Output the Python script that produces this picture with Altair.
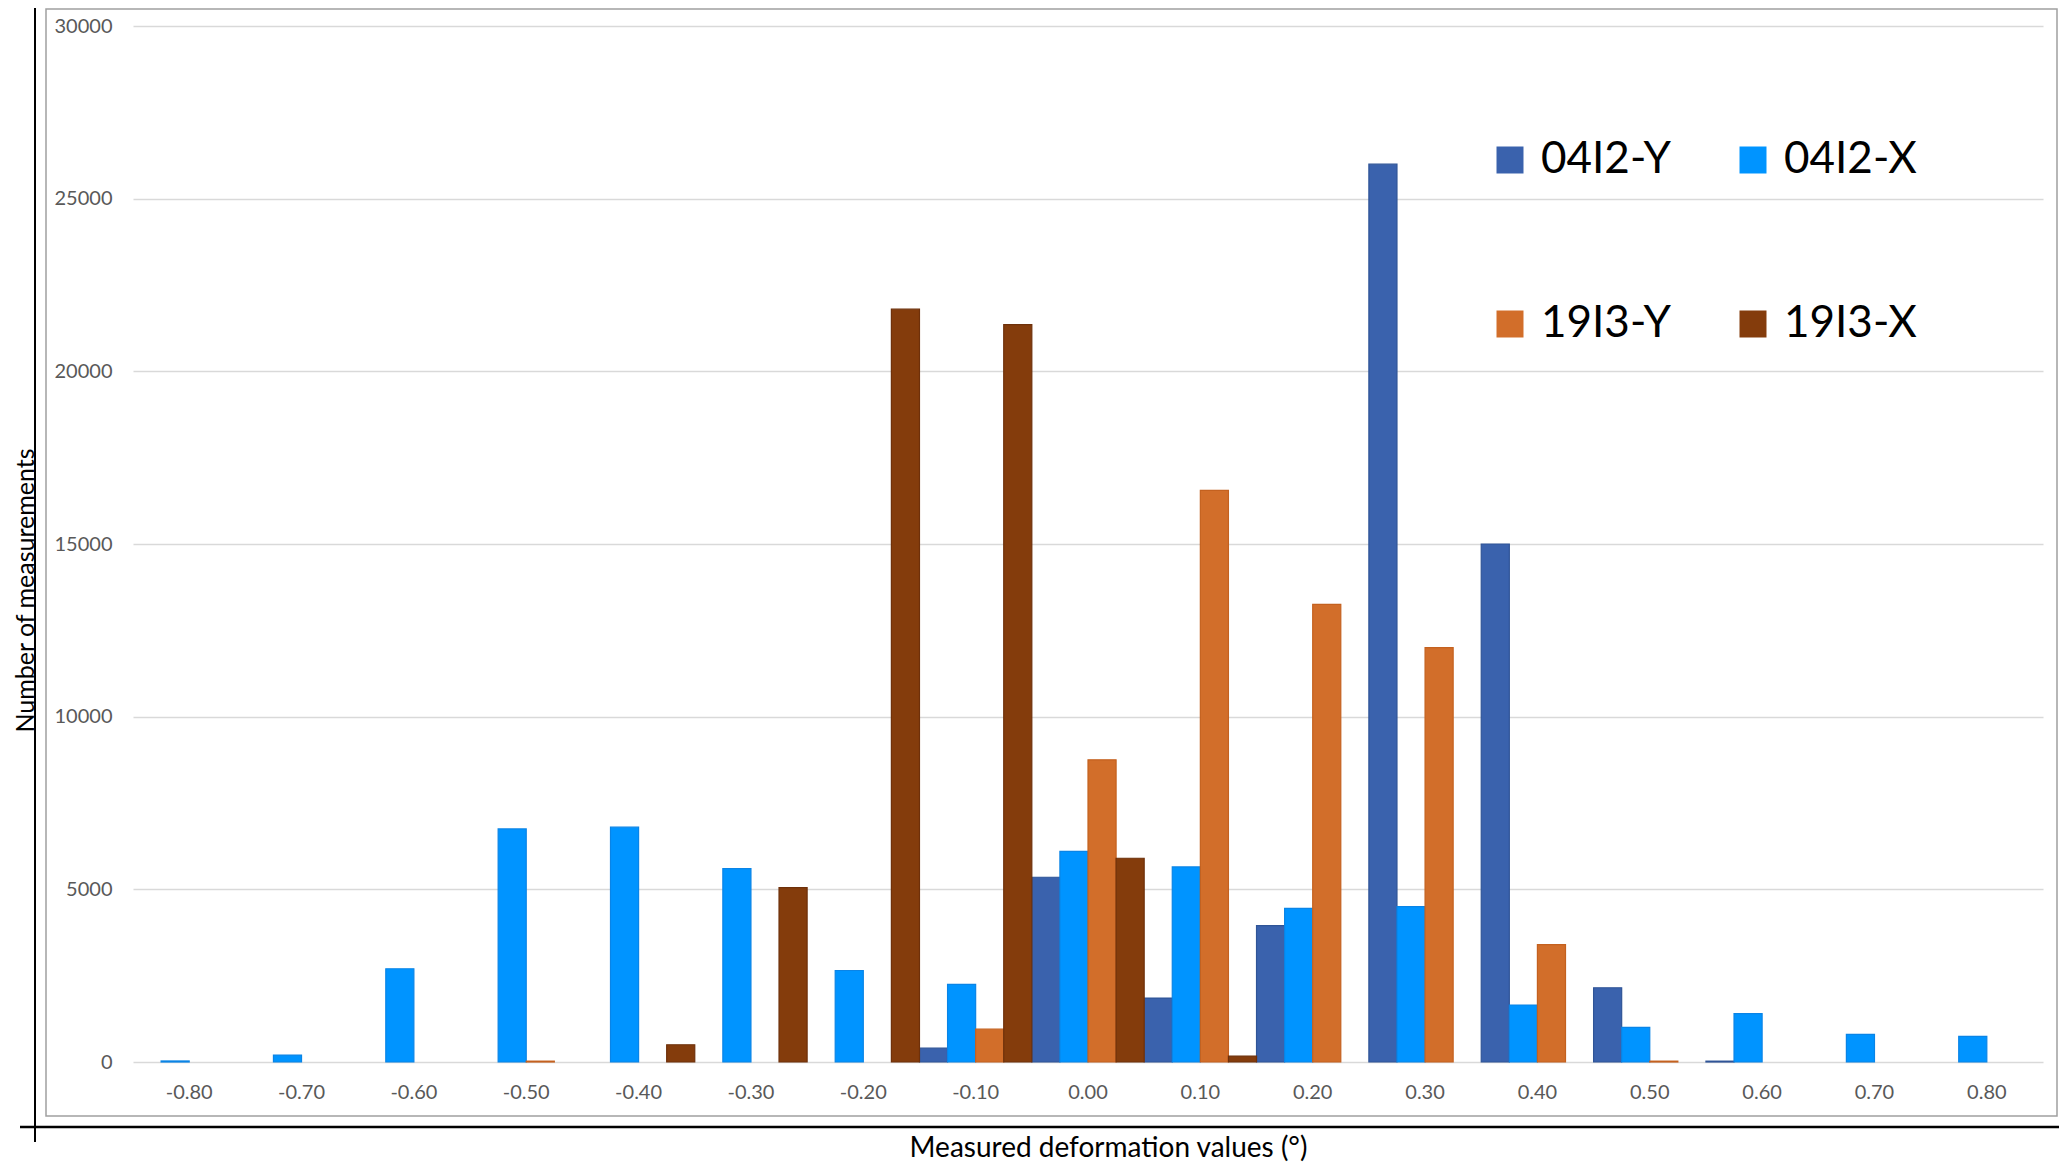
import altair as alt
import pandas as pd

categories = ["-0.80", "-0.70", "-0.60", "-0.50", "-0.40", "-0.30", "-0.20", "-0.10",
              "0.00", "0.10", "0.20", "0.30", "0.40", "0.50", "0.60", "0.70", "0.80"]
series = ["04I2-Y", "04I2-X", "19I3-Y", "19I3-X"]

vals_04I2_Y = [0, 0, 0, 0, 0, 0, 0, 400, 5350, 1850, 3950, 26000, 15000, 2150, 25, 0, 0]
vals_04I2_X = [30, 200, 2700, 6750, 6800, 5600, 2650, 2250, 6100, 5650, 4450, 4500, 1650, 1000, 1400, 800, 740]
vals_19I3_Y = [0, 0, 0, 25, 0, 0, 0, 950, 8750, 16550, 13250, 12000, 3400, 25, 0, 0, 0]
vals_19I3_X = [0, 0, 0, 0, 500, 5050, 21800, 21350, 5900, 170, 0, 0, 0, 0, 0, 0, 0]

fill_colors = {"04I2-Y": "#3A62AD", "04I2-X": "#0094FF", "19I3-Y": "#D26E2A", "19I3-X": "#843C0C"}
stroke_colors = {"04I2-Y": "#2F5497", "04I2-X": "#0A84E6", "19I3-Y": "#C4611F", "19I3-X": "#6E300A"}
# legend is filled column by column: first column 04I2-Y, 19I3-Y; second 04I2-X, 19I3-X
legend_order = ["04I2-Y", "19I3-Y", "04I2-X", "19I3-X"]
y_ticks = [0, 5000, 10000, 15000, 20000, 25000, 30000]

rows = []
for name, vals in zip(series, [vals_04I2_Y, vals_04I2_X, vals_19I3_Y, vals_19I3_X]):
    for c, v in zip(categories, vals):
        rows.append({"cat": c, "series": name, "value": v})
df = pd.DataFrame(rows)

FONT = "Lato"

bars = alt.Chart(df).transform_filter(alt.datum.value > 0).mark_bar(strokeWidth=1.2).encode(
    x=alt.X("cat:N", sort=categories,
            scale=alt.Scale(domain=categories, paddingInner=0, paddingOuter=0),
            axis=alt.Axis(title="Measured deformation values (°)", labelAngle=0,
                          labelFontSize=20, labelColor="#595959", labelPadding=20,
                          domain=False, ticks=False, grid=False,
                          titleFontSize=28, titleFontWeight="normal", titleColor="#000000",
                          titleX=975, titleY=86, titleAlign="center", titleBaseline="middle")),
    xOffset=alt.XOffset("series:N",
                        scale=alt.Scale(domain=series, paddingInner=0, paddingOuter=0)),
    y=alt.Y("value:Q", scale=alt.Scale(domain=[0, 30000], nice=False),
            axis=alt.Axis(title="Number of measurements", values=y_ticks, format="d",
                          labelFontSize=20, labelColor="#595959", labelPadding=21,
                          domain=False, ticks=False, gridColor="#D9D9D9", gridWidth=1.5,
                          titleFontSize=25, titleFontWeight="normal", titleColor="#000000",
                          titleX=-108, titleY=564, titleAngle=-90,
                          titleAlign="center", titleBaseline="middle")),
    color=alt.Color("series:N",
                    scale=alt.Scale(domain=legend_order,
                                    range=[fill_colors[s] for s in legend_order]),
                    legend=alt.Legend(title=None, orient="none", legendX=1355, legendY=112,
                                      columns=2, symbolType="square", symbolSize=729,
                                      symbolStrokeWidth=0, labelFontSize=44, labelColor="#000000",
                                      labelOffset=9, columnPadding=60, rowPadding=120,
                                      labelFont=FONT)),
    stroke=alt.Stroke("series:N",
                      scale=alt.Scale(domain=legend_order,
                                      range=[stroke_colors[s] for s in legend_order]),
                      legend=None),
)

deco = alt.Data(values=[{"k": 1}])

border = alt.Chart(deco).mark_rect(fill=None, stroke="#A0A0A0", strokeWidth=1.5).encode(
    x=alt.value(-87), x2=alt.value(1924), y=alt.value(-17), y2=alt.value(1090)
)
vline = alt.Chart(deco).mark_rule(color="#000000", strokeWidth=2).encode(
    x=alt.value(-98), y=alt.value(-18), y2=alt.value(1116)
)
hline = alt.Chart(deco).mark_rule(color="#000000", strokeWidth=2.5).encode(
    x=alt.value(-113), x2=alt.value(1926), y=alt.value(1101)
)

chart = alt.layer(border, bars, vline, hline).properties(
    width=1910, height=1036,
    autosize=alt.AutoSizeParams(type="none"),
    padding={"left": 125, "top": 18, "right": 16, "bottom": 102},
).configure(font=FONT).configure_view(stroke=None)

chart.save("out.html", embed_options={"renderer": "svg", "actions": False})
